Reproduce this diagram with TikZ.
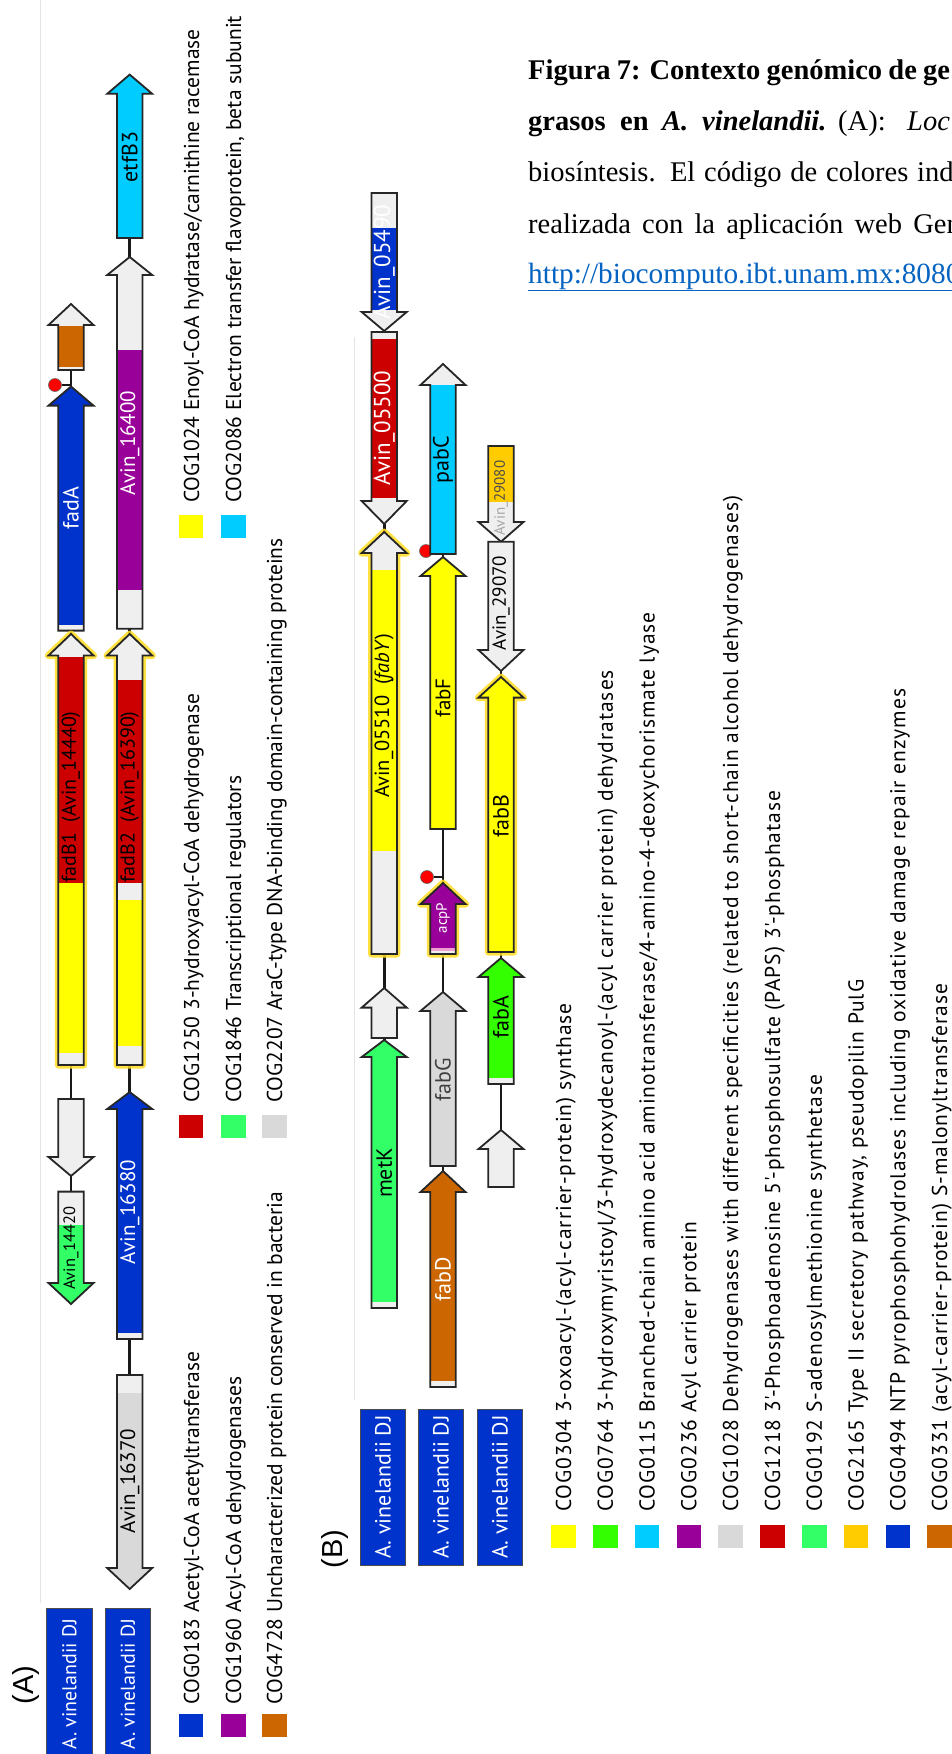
\documentclass[tikz,border=0pt]{standalone}
\usepackage{fontspec}
\setmainfont{Liberation Serif}
\newfontfamily\labf{PT Sans}
\newfontfamily\legBf[LetterSpace=4.5]{PT Sans}
\newfontfamily\arialf{Liberation Sans}
\pgfdeclarelayer{back}
\pgfdeclarelayer{bg}
\pgfsetlayers{back,bg,main}
\definecolor{cblue}{HTML}{0033CC}
\definecolor{cpurple}{HTML}{990099}
\definecolor{corange}{HTML}{CC6600}
\definecolor{cyellow}{HTML}{FFFF00}
\definecolor{ccyan}{HTML}{00CCFF}
\definecolor{cred}{HTML}{CC0000}
\definecolor{cspring}{HTML}{33FF66}
\definecolor{cgreen}{HTML}{33FF00}
\definecolor{cgold}{HTML}{FFCC00}
\definecolor{cgray}{HTML}{D9D9D9}
\definecolor{clight}{HTML}{EFEFEF}
\definecolor{chalo}{HTML}{FFDD22}
\definecolor{clink}{HTML}{0563C1}
\definecolor{cframe}{HTML}{E4E4E4}
\definecolor{cpink}{HTML}{F0A0D0}
\newcommand\fs[1]{\fontsize{#1}{#1}\selectfont}
\newcommand\ashape[4]{(#1-12.7,#4) -- (#1-12.7,#3) -- (#1-22.5,#3) -- (#1,#2) -- (#1+22.5,#3) -- (#1+12.7,#3) -- (#1+12.7,#4) -- cycle}
\newcommand\genebody[6]{%
  \begin{scope}
    \clip \ashape{#2}{#3}{#4}{#5};
    \fill[clight] (#2-30,#3) rectangle (#2+30,#5);
    \foreach \gcol/\ga/\gb in {#6} {\fill[\gcol] (#2-30,\ga) rectangle (#2+30,\gb);}
  \end{scope}
  \draw[gout] \ashape{#2}{#3}{#4}{#5};
  \coordinate (#1-tip) at (#2,#3);
  \coordinate (#1-end) at (#2,#5);
}
\newcommand\gene[6]{\genebody{#1}{#2}{#3}{#4}{#5}{#6}}
\newcommand\hgene[6]{\draw[halo] \ashape{#2}{#3}{#4}{#5};\genebody{#1}{#2}{#3}{#4}{#5}{#6}}
\begin{document}
\begin{tikzpicture}[x=1pt,y=-1pt,
  gout/.style={draw=black!85, line width=1.8pt, line join=miter},
  halo/.style={draw=chalo, line width=7pt, line join=round, opacity=0.85},
  conn/.style={draw=black!90, line width=2.6pt},
  glab/.style={rotate=90, inner sep=0pt, font=\labf\fs{21}},
  legt/.style={rotate=90, inner sep=0pt, anchor=base west, font=\labf\fs{21.5}},
  legtB/.style={rotate=90, inner sep=0pt, anchor=base west, font=\legBf\fs{21.5}},
  sq/.style={minimum width=24.5pt, minimum height=23pt, inner sep=0pt},
  namebox/.style={rotate=90, fill=cblue, draw=black!70, line width=1pt, text=white, inner sep=0pt, minimum height=45.6pt},
  term/.style={circle, fill=red, draw=black!60, line width=0.6pt, minimum size=13pt, inner sep=0pt},
  captxt/.style={anchor=base west, inner sep=0pt, font=\fs{28.5}},
  paneltxt/.style={rotate=90, inner sep=0pt, font=\arialf\fs{29}},
]
\useasboundingbox (0,0) rectangle (952,1754);
\begin{pgfonlayer}{back}
\fill[white] (0,0) rectangle (952,1754);
\draw[cframe, line width=1pt] (40,0) -- (40,1603);
\draw[cframe, line width=1pt] (354,337) -- (354,1400);
\end{pgfonlayer}

% ---------- Caption ----------
\begin{scope}
\clip (0,0) rectangle (952,1754);
\node[captxt] (c1) at (528,79.3) {\makebox[421.9pt][s]{\textbf{Figura 7: Contexto genómico de ge}}};
\node[captxt] (c2a) at (528,130) {\textbf{grasos}};
\node[captxt] (c2b) at (620,130) {\textbf{en}};
\node[captxt] (c2c) at (662,130) {\textbf{\textit{A.}}};
\node[captxt] (c2d) at (702,130) {\textbf{\textit{vinelandii.}}};
\node[captxt] (c2e) at (838,130) {(A):};
\node[captxt] (c2f) at (907,130) {\textit{Loc}};
\node[captxt] (c3) at (528,181.7) {\makebox[425.4pt][s]{biosíntesis. El código de colores ind}};
\node[captxt] (c4) at (528,233) {\makebox[432.5pt][s]{realizada con la aplicación web Gen}};
\node[captxt, text=clink, font=\fs{29.3}] (c5) at (528,283) {\underline{http://biocomputo.ibt.unam.mx:8080}};
\end{scope}

% ---------- Panel A genes ----------
\gene{oA}{71}{304}{325}{370}{corange/326/367}
\gene{fadA}{71}{386.5}{405.6}{630.6}{cblue/386/625}
\hgene{fadB1}{71}{634}{655.5}{1065}{cred/657/883, cyellow/883/1053}
\gene{wA}{71}{1176}{1157}{1099}{clight/1099/1176}
\gene{a14420}{71}{1304}{1283}{1191.6}{cspring/1225/1305}

\gene{etfB3}{129.7}{74.6}{93.8}{238}{ccyan/74/238}
\gene{a16400}{129.7}{257}{275}{628.7}{cpurple/350/590}
\hgene{fadB2}{129.7}{634}{655.5}{1065}{cred/680/883, cyellow/900/1046}
\gene{a16380}{129.7}{1092}{1109}{1339}{cblue/1092/1333}
\gene{a16370}{129.7}{1589}{1568}{1375}{cgray/1393/1590}

% ---------- Panel B genes ----------
\gene{a05490}{384.2}{331}{312}{193}{cblue/228/310}
\gene{a05500}{384.2}{524}{501}{332}{cred/339/497.5}
\hgene{a05510}{384.2}{532}{553}{954}{cyellow/570/851}
\gene{wB1}{384.2}{988}{1007.6}{1038}{clight/988/1038}
\gene{metK}{384.2}{1040}{1057}{1308}{cspring/1040/1302}

\gene{pabC}{443}{364}{385}{554}{ccyan/385/555}
\gene{fabF}{443}{557}{576}{829}{cyellow/557/829}
\hgene{acpP}{443}{883}{904}{954}{cpurple/883/948, cpink/948/951}
\gene{fabG}{443}{992}{1011}{1166}{cgray/992/1166}
\gene{fabD}{443}{1171}{1192}{1387}{corange/1171/1381}

\gene{a29080}{501}{541.7}{522}{446}{cgold/446/502}
\gene{a29070}{501}{671}{650}{541.7}{clight/541/671}
\hgene{fabB}{501}{677}{697.6}{952}{cyellow/677/952}
\gene{fabA}{501}{958}{977}{1084}{cgreen/958/1078}
\gene{wB3}{501}{1130}{1149}{1187}{clight/1130/1187}

% ---------- connectors and terminators ----------
\coordinate (t1j) at (71,385);
\coordinate (t2j) at (443,551);
\coordinate (t3j) at (443,877);
\begin{pgfonlayer}{bg}
\draw[conn] (oA-end) -- (fadA-tip);
\draw[conn] (fadA-end) -- (fadB1-tip);
\draw[conn] (fadB1-end) -- (wA-end);
\draw[conn] (wA-tip) -- (a14420-end);
\draw[conn] (etfB3-end) -- (a16400-tip);
\draw[conn] (a16400-end) -- (fadB2-tip);
\draw[conn] (fadB2-end) -- (a16380-tip);
\draw[conn] (a16380-end) -- (a16370-end);
\draw[conn] (a05490-tip) -- (a05500-end);
\draw[conn] (a05500-tip) -- (a05510-tip);
\draw[conn] (a05510-end) -- (wB1-tip);
\draw[conn] (wB1-end) -- (metK-tip);
\draw[conn] (pabC-end) -- (fabF-tip);
\draw[conn] (fabF-end) -- (acpP-tip);
\draw[conn] (acpP-end) -- (fabG-tip);
\draw[conn] (fabG-end) -- (fabD-tip);
\draw[conn] (a29080-tip) -- (a29070-end);
\draw[conn] (a29070-tip) -- (fabB-tip);
\draw[conn] (fabB-end) -- (fabA-tip);
\draw[conn] (fabA-end) -- (wB3-tip);
\node[term] (t1) at (55,385) {};
\node[term] (t2) at (426,551) {};
\node[term] (t3) at (427,877) {};
\draw[conn, line width=2pt] (t1) -- (t1j);
\draw[conn, line width=2pt] (t2) -- (t2j);
\draw[conn, line width=2pt] (t3) -- (t3j);
\end{pgfonlayer}

% ---------- gene labels ----------
\node[glab, text=white, font=\labf\fs{22}] (l-fadA) at (71,508) {fadA};
\node[glab, font=\labf\fs{20}] (l-fadB1) at (71,797) {fadB1\ \ (Avin\_14440)};
\node[glab, font=\labf\fs{16.5}] (l-a14420) at (71,1248) {Avin\_14420};
\node[glab, font=\labf\fs{22}] (l-etfB3) at (129.7,157) {etfB3};
\node[glab, text=white] (l-a16400) at (129.7,443) {Avin\_16400};
\node[glab, font=\labf\fs{20}] (l-fadB2) at (129.7,797) {fadB2\ \ (Avin\_16390)};
\node[glab, text=white] (l-a16380) at (129.7,1212) {Avin\_16380};
\node[glab] (l-a16370) at (129.7,1481) {Avin\_16370};

\node[glab, text=white, font=\labf\fs{23}] (l-a05490) at (384.2,262) {Avin\_05490};
\node[glab, text=white, font=\labf\fs{23}] (l-a05500) at (384.2,428) {Avin\_05500};
\node[glab, font=\labf\fs{20.5}] (l-a05510) at (384.2,716) {Avin\_05510\ \ (\textit{fabY})};
\node[glab, font=\labf\fs{22}] (l-metK) at (384.2,1173) {metK};
\node[glab, font=\labf\fs{22}] (l-pabC) at (443,460) {pabC};
\node[glab] (l-fabF) at (443,698) {fabF};
\node[glab, text=white, font=\labf\fs{15}] (l-acpP) at (443,918) {acpP};
\node[glab, text=black!75, font=\labf\fs{22}] (l-fabG) at (443,1080) {fabG};
\node[glab, text=white, font=\labf\fs{22}] (l-fabD) at (443,1279) {fabD};
\node[glab, font=\labf\fs{15}] (l-a29080) at (501,498) {{\color{black!35}Avin\_}{\color{black!70}29080}};
\node[glab, font=\labf\fs{19}] (l-a29070) at (501,603) {Avin\_29070};
\node[glab, font=\labf\fs{22}] (l-fabB) at (501,816) {fabB};
\node[glab, font=\labf\fs{22}] (l-fabA) at (501,1017) {fabA};

% ---------- organism boxes ----------
\node[namebox, minimum width=152pt, font=\labf\fs{20}] (nA1) at (69.5,1684) {A. vinelandii DJ};
\node[namebox, minimum width=152pt, font=\labf\fs{20}] (nA2) at (128,1684) {A. vinelandii DJ};
\node[namebox, minimum width=156pt, font=\labf\fs{22}] (nB1) at (383,1487) {A. vinelandii DJ};
\node[namebox, minimum width=156pt, font=\labf\fs{22}] (nB2) at (441,1487) {A. vinelandii DJ};
\node[namebox, minimum width=156pt, font=\labf\fs{22}] (nB3) at (500,1487) {A. vinelandii DJ};
\node[paneltxt] (pA) at (26,1685) {(A)};
\node[paneltxt] (pB) at (335,1549) {(B)};

% ---------- legend A ----------
\node[sq, fill=cyellow] (sA1) at (191,526.5) {};
\node[sq, fill=ccyan] (sA2) at (233.5,526.5) {};
\node[legt] (gA1) at (199,503) {COG1024 Enoyl-CoA hydratase/carnithine racemase};
\node[legt] (gA2) at (241,503) {COG2086 Electron transfer flavoprotein, beta subunit};
\node[sq, fill=cred] (sA3) at (191,1126.5) {};
\node[sq, fill=cspring] (sA4) at (233.5,1126.5) {};
\node[sq, fill=cgray] (sA5) at (274.5,1126.5) {};
\node[legt] (gA3) at (199,1103) {COG1250 3-hydroxyacyl-CoA dehydrogenase};
\node[legt] (gA4) at (241,1103) {COG1846 Transcriptional regulators};
\node[legt] (gA5) at (282,1103) {COG2207 AraC-type DNA-binding domain-containing proteins};
\node[sq, fill=cblue] (sA6) at (191,1725.5) {};
\node[sq, fill=cpurple] (sA7) at (233.5,1725.5) {};
\node[sq, fill=corange] (sA8) at (274.5,1725.5) {};
\node[legt] (gA6) at (199,1705) {COG0183 Acetyl-CoA acetyltransferase};
\node[legt] (gA7) at (241,1705) {COG1960 Acyl-CoA dehydrogenases};
\node[legt] (gA8) at (282,1705) {COG4728 Uncharacterized protein conserved in bacteria};

% ---------- legend B ----------
\foreach \k/\col/\txt in {
  0/cyellow/{COG0304 3-oxoacyl-(acyl-carrier-protein) synthase},
  1/cgreen/{COG0764 3-hydroxymyristoyl/3-hydroxydecanoyl-(acyl carrier protein) dehydratases},
  2/ccyan/{COG0115 Branched-chain amino acid aminotransferase/4-amino-4-deoxychorismate lyase},
  3/cpurple/{COG0236 Acyl carrier protein},
  4/cgray/{COG1028 Dehydrogenases with different specificities (related to short-chain alcohol dehydrogenases)},
  5/cred/{COG1218 3'-Phosphoadenosine 5'-phosphosulfate (PAPS) 3'-phosphatase},
  6/cspring/{COG0192 S-adenosylmethionine synthetase},
  7/cgold/{COG2165 Type II secretory pathway, pseudopilin PulG},
  8/cblue/{COG0494 NTP pyrophosphohydrolases including oxidative damage repair enzymes},
  9/corange/{COG0331 (acyl-carrier-protein) S-malonyltransferase}} {
  \node[sq, fill=\col] (sB\k) at (563.5+41.8*\k,1536.5) {};
  \node[legtB] (gB\k) at (571+41.8*\k,1512) {\txt};
}
\end{tikzpicture}
\end{document}
